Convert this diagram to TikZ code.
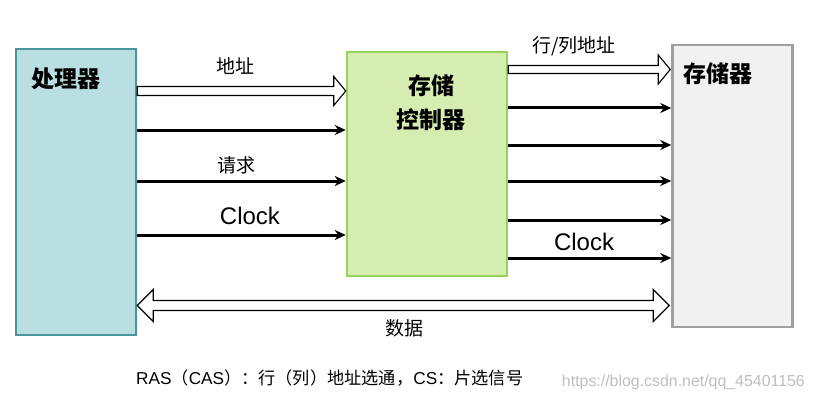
\documentclass[tikz,border=0pt]{standalone}
\usepackage{fontspec}
\setmainfont{Liberation Sans}
\newfontfamily\cjk{Noto Sans CJK SC}
\usetikzlibrary{arrows.meta,calc}
\definecolor{procfill}{RGB}{185,223,227}
\definecolor{procline}{RGB}{74,150,155}
\definecolor{ctrlfill}{RGB}{213,237,176}
\definecolor{ctrlline}{RGB}{150,210,85}
\definecolor{memfill}{RGB}{241,241,241}
\definecolor{memline}{RGB}{160,160,160}
\newcommand\HollowArrow[3]{% start, end, shaft half width
  \draw[hollow] ($(#1)+(0,-#3)$) -- ($(#2)+(-12,-#3)$) -- ($(#2)+(-12,-14.5)$) -- (#2)
    -- ($(#2)+(-12,14.5)$) -- ($(#2)+(-12,#3)$) -- ($(#1)+(0,#3)$) -- cycle;}
\begin{document}
\begin{tikzpicture}[x=1pt,y=-1pt,
  box/.style={draw,line width=2.5pt,inner sep=0pt,minimum width=#1},
  hollow/.style={draw=black,fill=white,line width=1.1pt,line join=miter},
  sig/.style={line width=3pt,-{Stealth[length=11pt,width=10pt,inset=3.5pt]}},
  lbl/.style={font=\cjk\fontsize{19}{19}\selectfont,inner sep=0pt},
  title/.style={font=\cjk\bfseries\fontsize{23}{34}\selectfont,inner sep=0pt,align=center},
  clk/.style={font=\fontsize{24}{24}\selectfont,inner sep=0pt}]
\useasboundingbox[fill=white] (0,0) rectangle (813,401);
% boxes
\node[box=120pt,fill=procfill,draw=procline,minimum height=286pt] (proc) at (76,192) {};
\node[box=160pt,fill=ctrlfill,draw=ctrlline,minimum height=224pt] (ctrl) at (427,164) {};
\node[box=120pt,fill=memfill,draw=memline,minimum height=282pt] (mem) at (732.5,186) {};
% titles
\node[title] (tproc) at (66,79) {处理器};
\node[title] (tctrl) at (431,103) {存储\\控制器};
\node[title] (tmem) at (718,74) {存储器};
% row coordinates
\coordinate (yA) at (0,91);
\coordinate (yB) at (0,130);
\coordinate (yC) at (0,181);
\coordinate (yD) at (0,235);
\coordinate (yR) at (0,69.5);
\coordinate (y1) at (0,108);
\coordinate (y2) at (0,145);
\coordinate (y3) at (0,181);
\coordinate (y4) at (0,220);
\coordinate (y5) at (0,258);
\coordinate (yData) at (0,305.5);
% processor -> controller
\coordinate (adrS) at (proc.east |- yA);
\coordinate (adrE) at (ctrl.west |- yA);
\HollowArrow{adrS}{adrE}{4.5}
\draw[sig] (proc.east |- yB) -- (ctrl.west |- yB);
\draw[sig] (proc.east |- yC) -- (ctrl.west |- yC);
\draw[sig] (proc.east |- yD) -- (ctrl.west |- yD);
% controller -> memory
\coordinate (rcS) at (ctrl.east |- yR);
\coordinate (rcE) at ([xshift=-1pt]mem.west |- yR);
\HollowArrow{rcS}{rcE}{4}
\draw[sig] (ctrl.east |- y1) -- (mem.west |- y1);
\draw[sig] (ctrl.east |- y2) -- (mem.west |- y2);
\draw[sig] (ctrl.east |- y3) -- (mem.west |- y3);
\draw[sig] (ctrl.east |- y4) -- (mem.west |- y4);
\draw[sig] (ctrl.east |- y5) -- (mem.west |- y5);
% data double arrow
\coordinate (dL) at (proc.east |- yData);
\coordinate (dR) at ([xshift=-2pt]mem.west |- yData);
\draw[hollow] (dL) -- ($(dL)+(16,-16)$) -- ($(dL)+(16,-5)$) -- ($(dR)+(-16,-5)$)
  -- ($(dR)+(-16,-16)$) -- (dR) -- ($(dR)+(-16,16)$) -- ($(dR)+(-16,5)$)
  -- ($(dL)+(16,5)$) -- ($(dL)+(16,16)$) -- cycle;
% labels
\node[lbl] (ladr) at (235,66) {地址};
\node[lbl] (lreq) at (236,165) {请求};
\node[clk] (lclk1) at (250,216) {Clock};
\node[lbl] (lrc) at (574,46) {行/列地址};
\node[clk] (lclk2) at (584,242) {Clock};
\node[lbl] (ldata) at (404,328) {数据};
\node[inner sep=0pt,anchor=west,font=\fontsize{17.2}{17.2}\selectfont] (note) at (136,378)
  {RAS{\cjk （}CAS{\cjk ）：行（列）地址选通，}CS{\cjk ：片选信号}};
\node[inner sep=0pt,anchor=east,text=black!25,font=\fontsize{15.9}{15.9}\selectfont] (wm) at (805,382)
  {https://blog.csdn.net/qq\_45401156};
\end{tikzpicture}
\end{document}
